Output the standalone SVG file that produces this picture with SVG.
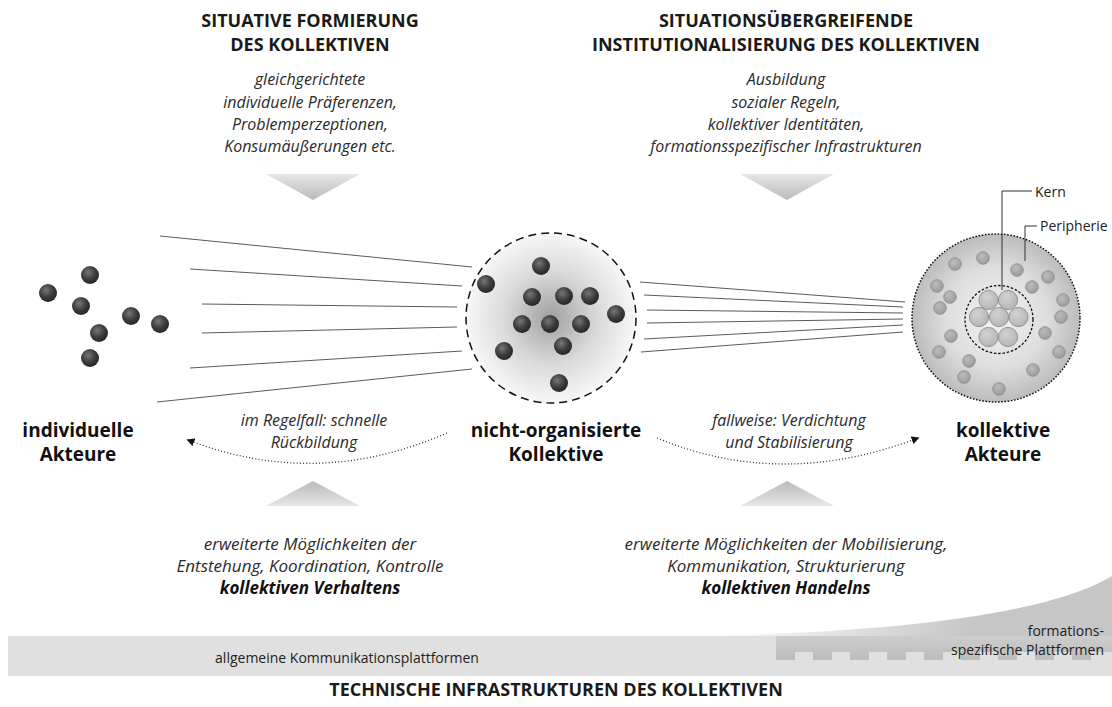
<svg xmlns="http://www.w3.org/2000/svg" width="1112" height="707" viewBox="0 0 1112 707">
<defs>
<style>
.title{font-family:"Open Sans","Noto Sans",sans-serif;font-weight:bold;font-size:18px;fill:#1a1a1a;text-anchor:middle}
.it{font-family:"Open Sans","Noto Sans",sans-serif;font-style:italic;font-size:16px;fill:#2a2a2a;text-anchor:middle}
.it2{font-family:"Open Sans","Noto Sans",sans-serif;font-style:italic;font-size:17px;fill:#2a2a2a;text-anchor:middle}
.it3{font-family:"Open Sans","Noto Sans",sans-serif;font-style:italic;font-size:16px;fill:#2a2a2a;text-anchor:middle}
.itb{font-family:"Open Sans","Noto Sans",sans-serif;font-style:italic;font-weight:bold;font-size:17px;fill:#111;text-anchor:middle}
.lbl{font-family:"Open Sans","Noto Sans",sans-serif;font-weight:bold;font-size:19px;fill:#111;text-anchor:middle}
.sm{font-family:"Open Sans","Noto Sans",sans-serif;font-size:14px;fill:#222}
.ball{fill:url(#ball)}
.pd{fill:url(#pdot);stroke:#8c8c8c;stroke-width:0.8}
.core{fill:url(#core);stroke:#8c8c8c;stroke-width:0.9}
.ray{stroke:#5a5a5a;stroke-width:1;fill:none}
.dots{stroke:#333;stroke-width:1.3;stroke-dasharray:1 2.2;fill:none}
.lead{stroke:#333;stroke-width:1;fill:none}
</style>
<radialGradient id="ball" cx="0.4" cy="0.35" r="0.7">
<stop offset="0" stop-color="#777"/>
<stop offset="0.55" stop-color="#3d3d3d"/>
<stop offset="1" stop-color="#232323"/>
</radialGradient>
<radialGradient id="cloud" cx="0.5" cy="0.5" r="0.5">
<stop offset="0" stop-color="#a0a0a0"/>
<stop offset="0.55" stop-color="#dadada"/>
<stop offset="1" stop-color="#f7f7f7"/>
</radialGradient>
<radialGradient id="org" cx="0.5" cy="0.5" r="0.5">
<stop offset="0" stop-color="#f2f2f2"/>
<stop offset="0.6" stop-color="#dedede"/>
<stop offset="1" stop-color="#bcbcbc"/>
</radialGradient>
<radialGradient id="pdot" cx="0.4" cy="0.35" r="0.7">
<stop offset="0" stop-color="#bcbcbc"/>
<stop offset="1" stop-color="#9a9a9a"/>
</radialGradient>
<radialGradient id="core" cx="0.4" cy="0.35" r="0.7">
<stop offset="0" stop-color="#d2d2d2"/>
<stop offset="1" stop-color="#b4b4b4"/>
</radialGradient>
<linearGradient id="triDown" x1="0" y1="0" x2="0" y2="1">
<stop offset="0" stop-color="#e6e6e6"/>
<stop offset="1" stop-color="#bababa"/>
</linearGradient>
<linearGradient id="triUp" x1="0" y1="1" x2="0" y2="0">
<stop offset="0" stop-color="#e6e6e6"/>
<stop offset="1" stop-color="#bababa"/>
</linearGradient>
<linearGradient id="curve" gradientUnits="userSpaceOnUse" x1="720" y1="585" x2="960" y2="665">
<stop offset="0" stop-color="#ffffff"/>
<stop offset="1" stop-color="#c6c6c6"/>
</linearGradient>
<linearGradient id="block" x1="0" y1="0" x2="0" y2="1">
<stop offset="0" stop-color="#cdcdcd"/>
<stop offset="1" stop-color="#bcbcbc"/>
</linearGradient>
<marker id="ah" viewBox="0 0 10 10" refX="8" refY="5" markerWidth="8" markerHeight="8" markerUnits="userSpaceOnUse" orient="auto">
<path d="M0,0 L10,5 L0,10 z" fill="#111"/>
</marker>
</defs>

<g id="header-left">
<text class="title" x="310" y="27">SITUATIVE FORMIERUNG</text>
<text class="title" x="310" y="51">DES KOLLEKTIVEN</text>
<text class="it" x="310" y="85">gleichgerichtete</text>
<text class="it" x="310" y="108">individuelle Präferenzen,</text>
<text class="it" x="310" y="130">Problemperzeptionen,</text>
<text class="it" x="310" y="152">Konsumäußerungen etc.</text>
<polygon points="266,174 360,174 313,200" fill="url(#triDown)"/>
</g>

<g id="header-right">
<text class="title" x="786" y="27">SITUATIONSÜBERGREIFENDE</text>
<text class="title" x="786" y="51">INSTITUTIONALISIERUNG DES KOLLEKTIVEN</text>
<text class="it" x="786" y="85">Ausbildung</text>
<text class="it" x="786" y="108">sozialer Regeln,</text>
<text class="it" x="786" y="130">kollektiver Identitäten,</text>
<text class="it" x="786" y="152">formationsspezifischer Infrastrukturen</text>
<polygon points="740,174 834,174 787,200" fill="url(#triDown)"/>
</g>

<g id="connectors">
<line class="ray" x1="160" y1="236" x2="472" y2="267"/>
<line class="ray" x1="190" y1="269" x2="462" y2="286"/>
<line class="ray" x1="202" y1="304" x2="457" y2="307"/>
<line class="ray" x1="202" y1="333" x2="457" y2="327"/>
<line class="ray" x1="190" y1="368" x2="462" y2="351"/>
<line class="ray" x1="157" y1="402" x2="472" y2="369"/>
<line class="ray" x1="640" y1="282" x2="905" y2="302"/>
<line class="ray" x1="644" y1="295" x2="903" y2="307"/>
<line class="ray" x1="647" y1="310" x2="903" y2="313"/>
<line class="ray" x1="647" y1="323" x2="903" y2="319"/>
<line class="ray" x1="644" y1="339" x2="903" y2="325"/>
<line class="ray" x1="641" y1="352" x2="903" y2="332"/>
<path class="dots" d="M447,433 Q317,490 188,440" marker-end="url(#ah)"/>
<path class="dots" d="M657,438 Q782,490 918,438" marker-end="url(#ah)"/>
</g>

<g id="individual-actors">
<circle class="ball" cx="48" cy="293" r="9"/>
<circle class="ball" cx="90" cy="275" r="9"/>
<circle class="ball" cx="81" cy="306" r="9"/>
<circle class="ball" cx="131" cy="316" r="9"/>
<circle class="ball" cx="160" cy="324" r="9"/>
<circle class="ball" cx="99" cy="333" r="9"/>
<circle class="ball" cx="90" cy="358" r="9"/>
<text class="lbl" x="78" y="437">individuelle</text>
<text class="lbl" x="78" y="461">Akteure</text>
</g>

<g id="non-organized-collectives">
<circle cx="551" cy="318" r="85" fill="url(#cloud)" stroke="#111" stroke-width="1.5" stroke-dasharray="8 5"/>
<circle class="ball" cx="541" cy="266" r="9"/>
<circle class="ball" cx="486" cy="284" r="9"/>
<circle class="ball" cx="532" cy="297" r="9"/>
<circle class="ball" cx="564" cy="296" r="9"/>
<circle class="ball" cx="590" cy="296" r="9"/>
<circle class="ball" cx="616" cy="314" r="9"/>
<circle class="ball" cx="522" cy="324" r="9"/>
<circle class="ball" cx="550" cy="324" r="9"/>
<circle class="ball" cx="581" cy="324" r="9"/>
<circle class="ball" cx="504" cy="351" r="9"/>
<circle class="ball" cx="563" cy="346" r="9"/>
<circle class="ball" cx="559" cy="383" r="9"/>
<text class="lbl" x="556" y="437">nicht-organisierte</text>
<text class="lbl" x="556" y="461">Kollektive</text>
</g>

<g id="collective-actors">
<circle cx="996" cy="318" r="84" fill="url(#org)" stroke="#111" stroke-width="1.5" stroke-dasharray="1.6 1.6"/>
<circle cx="999" cy="319.5" r="34" fill="none" stroke="#111" stroke-width="1.3" stroke-dasharray="2.5 1.8"/>
<circle class="pd" cx="955" cy="264" r="6.3"/>
<circle class="pd" cx="983" cy="258" r="6.3"/>
<circle class="pd" cx="1017" cy="270" r="6.3"/>
<circle class="pd" cx="1048" cy="277" r="6.3"/>
<circle class="pd" cx="937" cy="286" r="6.3"/>
<circle class="pd" cx="950" cy="297" r="6.3"/>
<circle class="pd" cx="1032" cy="287" r="6.3"/>
<circle class="pd" cx="1063" cy="300" r="6.3"/>
<circle class="pd" cx="940" cy="308" r="6.3"/>
<circle class="pd" cx="1061" cy="317" r="6.3"/>
<circle class="pd" cx="1045" cy="333" r="6.3"/>
<circle class="pd" cx="951" cy="336" r="6.3"/>
<circle class="pd" cx="939" cy="352" r="6.3"/>
<circle class="pd" cx="1059" cy="352" r="6.3"/>
<circle class="pd" cx="969" cy="361" r="6.3"/>
<circle class="pd" cx="964" cy="377" r="6.3"/>
<circle class="pd" cx="1033" cy="370" r="6.3"/>
<circle class="pd" cx="999" cy="389" r="6.3"/>
<circle class="core" cx="988.5" cy="300" r="9.6"/>
<circle class="core" cx="1008" cy="300" r="9.6"/>
<circle class="core" cx="979" cy="317" r="9.6"/>
<circle class="core" cx="999" cy="317" r="9.6"/>
<circle class="core" cx="1018.5" cy="317" r="9.6"/>
<circle class="core" cx="988.5" cy="337" r="9.6"/>
<circle class="core" cx="1008" cy="337" r="9.6"/>
<path class="lead" d="M1002,290 V191 H1032"/>
<path class="lead" d="M1025,261 V226 H1037"/>
<text class="sm" x="1035" y="197">Kern</text>
<text class="sm" x="1040" y="231">Peripherie</text>
<text class="lbl" x="1003" y="437">kollektive</text>
<text class="lbl" x="1003" y="461">Akteure</text>
</g>

<g id="arrow-labels">
<text class="it3" x="314" y="426">im Regelfall: schnelle</text>
<text class="it3" x="314" y="448">Rückbildung</text>
<text class="it3" x="789" y="426">fallweise: Verdichtung</text>
<text class="it3" x="789" y="448">und Stabilisierung</text>
</g>

<g id="footer-left">
<polygon points="266,506 360,506 313,481" fill="url(#triUp)"/>
<text class="it2" x="310" y="550">erweiterte Möglichkeiten der</text>
<text class="it2" x="310" y="572">Entstehung, Koordination, Kontrolle</text>
<text class="itb" x="310" y="594">kollektiven Verhaltens</text>
</g>

<g id="footer-right">
<polygon points="740,506 834,506 787,481" fill="url(#triUp)"/>
<text class="it2" x="786" y="550">erweiterte Möglichkeiten der Mobilisierung,</text>
<text class="it2" x="786" y="572">Kommunikation, Strukturierung</text>
<text class="itb" x="786" y="594">kollektiven Handelns</text>
</g>

<g id="platforms">
<rect x="8" y="636" width="1104" height="40" fill="#e0e0e0"/>
<path d="M690,636 C850,634 1040,620 1112,576 L1112,636 Z" fill="url(#curve)"/>
<path d="M776,636 H1112 V652 H1091 V660 H1072 V652 H1054 V660 H1035 V652 H1017 V660 H998 V652 H980 V660 H961 V652 H943 V660 H924 V652 H906 V660 H887 V652 H869 V660 H850 V652 H832 V660 H813 V652 H795 V660 H776 Z" fill="url(#block)"/>
<text class="sm" x="347" y="663" text-anchor="middle">allgemeine Kommunikationsplattformen</text>
<text class="sm" x="1104" y="636" text-anchor="end">formations-</text>
<text class="sm" x="1104" y="655" text-anchor="end">spezifische Plattformen</text>
<text class="title" x="556" y="696">TECHNISCHE INFRASTRUKTUREN DES KOLLEKTIVEN</text>
</g>
</svg>
